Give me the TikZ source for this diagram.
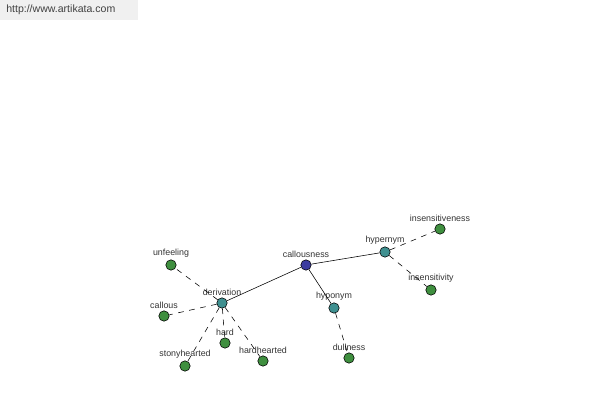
\documentclass[tikz,border=0pt]{standalone}
\usepackage{fontspec}
\setmainfont{Liberation Sans}
\usepackage{tikz}
\usetikzlibrary{arrows}

\definecolor{rootblue}{HTML}{3C3CA0}
\definecolor{relteal}{HTML}{3F9090}
\definecolor{leafgreen}{HTML}{3F8F3F}
\definecolor{labelgray}{HTML}{333333}

\tikzset{
  wordnode/.style={circle, draw=black, line width=0.4pt, minimum size=0.26cm, inner sep=0pt},
  rootword/.style={wordnode, fill=rootblue},
  relword/.style={wordnode, fill=relteal},
  leafword/.style={wordnode, fill=leafgreen},
  wordlabel/.style={label={[font=\fontsize{6.3}{7}\selectfont, text=labelgray, inner sep=0pt, yshift=0.04cm]above:#1}},
  dashlink/.style={dash pattern=on 4pt off 4pt, line width=0.4pt},
  solidlink/.style={line width=0.4pt}
}

\begin{document}
\begin{tikzpicture}[x=0.025cm, y=-0.025cm]

\useasboundingbox (0,0) rectangle (600,400);

% site banner
\fill[gray!12] (0,0) rectangle (138,20);
\node[anchor=west, inner sep=0pt, font=\fontsize{7.5}{9}\selectfont, text=black!75] (site) at (6,10) {http://www.artikata.com};

% centre word and relations
\node[rootword, wordlabel=callousness] (callousness) at (306,265) {};
\node[relword, wordlabel=derivation] (derivation) at (222,303) {};
\node[relword, wordlabel=hypernym] (hypernym) at (385,252) {};
\node[relword, wordlabel=hyponym] (hyponym) at (334,308) {};

% leaves
\node[leafword, wordlabel=unfeeling] (unfeeling) at (171,265) {};
\node[leafword, wordlabel=callous] (callous) at (164,316) {};
\node[leafword, wordlabel=stonyhearted] (stonyhearted) at (185,366) {};
\node[leafword, wordlabel=hard] (hard) at (225,343) {};
\node[leafword, wordlabel=hardhearted] (hardhearted) at (263,361) {};
\node[leafword, wordlabel=insensitiveness] (insensitiveness) at (440,229) {};
\node[leafword, wordlabel=insensitivity] (insensitivity) at (431,290) {};
\node[leafword, wordlabel=dullness] (dullness) at (349,358) {};

% links
\draw[solidlink] (callousness) -- (derivation);
\draw[solidlink] (callousness) -- (hypernym);
\draw[solidlink] (callousness) -- (hyponym);
\foreach \leaf in {unfeeling, callous, stonyhearted, hard, hardhearted}
  \draw[dashlink] (derivation) -- (\leaf);
\foreach \leaf in {insensitiveness, insensitivity}
  \draw[dashlink] (hypernym) -- (\leaf);
\draw[dashlink] (hyponym) -- (dullness);

\end{tikzpicture}
\end{document}
